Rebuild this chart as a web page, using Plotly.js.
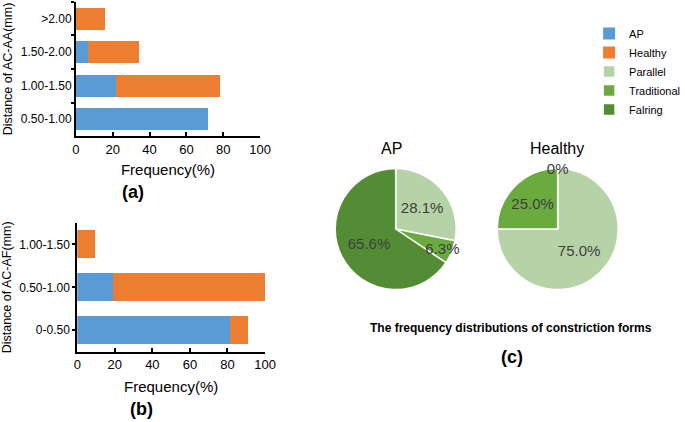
<!DOCTYPE html>
<html>
<head>
<meta charset="utf-8">
<script src="https://cdn.plot.ly/plotly-3.0.1.min.js"></script>
<style>
  html, body { margin: 0; padding: 0; background: #fff; }
  #chart { width: 685px; height: 422px; }
</style>
</head>
<body>
<div id="chart"></div>
<script>
// (a) distance of AC-AA
const catsA = ["0.50-1.00", "1.00-1.50", "1.50-2.00", ">2.00"];
const apA = [71.9, 21.9, 6.3, 0];
const healthyA = [0, 56.3, 28.1, 15.6];

// (b) distance of AC-AF
const catsB = ["0-0.50", "0.50-1.00", "1.00-1.50"];
const apB = [81.3, 18.8, 0];
const healthyB = [9.4, 81.2, 9.4];

// (c) constriction forms
const forms = ["Parallel", "Traditional", "Falring"];
const apForms = [28.1, 6.3, 65.6];
const healthyForms = [75.0, 25.0, 0];

const blue = "#5b9bd5", orange = "#ed7d31";
const formColors = ["#b5d3a6", "#6aaa3f", "#548c35"];
const font = "Arial, 'Liberation Sans', sans-serif";

const pct = v => v === 0 ? "0%" : v.toFixed(1) + "%";

const domAP = {x: [0.4893, 0.6660], y: [0.3140, 0.6007]};
const domHealthy = {x: [0.7258, 0.9025], y: [0.3140, 0.6007]};

// slices first, then a transparent copy on top that only carries the labels
function pieSlices(values, dom) {
  return {type: "pie", labels: forms, values: values, textinfo: "none",
    sort: false, direction: "clockwise", rotation: 0,
    marker: {colors: formColors, line: {color: "#fff", width: 1.5}},
    domain: dom, hoverinfo: "label+value"};
}
function pieLabels(values, dom) {
  return {type: "pie", labels: forms, values: values, text: values.map(pct),
    textinfo: "text", textposition: "inside", insidetextorientation: "horizontal",
    sort: false, direction: "clockwise", rotation: 0, showlegend: false,
    marker: {colors: ["rgba(0,0,0,0)", "rgba(0,0,0,0)", "rgba(0,0,0,0)"], line: {width: 0}},
    textfont: {color: "#404040", size: 15, family: font},
    domain: dom, hoverinfo: "skip"};
}

const data = [
  {type: "bar", orientation: "h", name: "AP", x: apA, y: catsA,
   xaxis: "x", yaxis: "y", marker: {color: blue}, hoverinfo: "x"},
  {type: "bar", orientation: "h", name: "Healthy", x: healthyA, y: catsA,
   xaxis: "x", yaxis: "y", marker: {color: orange}, hoverinfo: "x"},
  {type: "bar", orientation: "h", name: "AP", x: apB, y: catsB, showlegend: false,
   xaxis: "x2", yaxis: "y2", marker: {color: blue}, hoverinfo: "x"},
  {type: "bar", orientation: "h", name: "Healthy", x: healthyB, y: catsB, showlegend: false,
   xaxis: "x2", yaxis: "y2", marker: {color: orange}, hoverinfo: "x"},
  pieSlices(apForms, domAP),
  pieSlices(healthyForms, domHealthy),
  pieLabels(apForms, domAP),
  pieLabels(healthyForms, domHealthy)
];

const xAxisBase = {
  range: [0, 100], dtick: 20, showgrid: false, zeroline: false, automargin: false,
  showline: true, linecolor: "#000", linewidth: 2,
  ticks: "inside", ticklen: 4, tickwidth: 2, tickcolor: "#000",
  tickfont: {size: 13, color: "#000", family: font}
};
const yAxisBase = {
  type: "category", showgrid: false, zeroline: false, automargin: false,
  showline: true, linecolor: "#000", linewidth: 2,
  ticks: "outside", ticklen: 3, tickwidth: 2, tickcolor: "#000",
  tickfont: {size: 12, color: "#000", family: font}
};

function note(text, px, py, size) {
  return {text: text, x: px / 685, y: 1 - py / 422, xref: "paper", yref: "paper",
    xanchor: "center", yanchor: "middle", showarrow: false,
    font: {size: size, color: "#000", family: font}};
}

const layout = {
  width: 685, height: 422,
  margin: {l: 0, r: 0, t: 0, b: 0, autoexpand: false},
  paper_bgcolor: "#fff", plot_bgcolor: "#fff",
  font: {family: font, color: "#000"},
  barmode: "stack", bargap: 0.35,
  uniformtext: {mode: "show", minsize: 15},
  xaxis: Object.assign({}, xAxisBase, {
    domain: [0.1109, 0.3796], anchor: "y",
    title: {text: "Frequency(%)", font: {size: 15, color: "#000", family: font}, standoff: 9}
  }),
  yaxis: Object.assign({}, yAxisBase, {
    domain: [0.6777, 0.9953], anchor: "x", range: [-0.5, 3.5],
    categoryorder: "array", categoryarray: catsA, tickson: "boundaries",
    title: {text: "Distance of AC-AA(mm)", font: {size: 12.5, color: "#000", family: font}, standoff: 5}
  }),
  xaxis2: Object.assign({}, xAxisBase, {
    domain: [0.1128, 0.3869], anchor: "y2",
    title: {text: "Frequency(%)", font: {size: 15, color: "#000", family: font}, standoff: 10}
  }),
  yaxis2: Object.assign({}, yAxisBase, {
    domain: [0.1666, 0.4716], anchor: "x2", range: [-0.5, 2.5],
    categoryorder: "array", categoryarray: catsB,
    title: {text: "Distance of AC-AF(mm)", font: {size: 12.5, color: "#000", family: font}, standoff: 5}
  }),
  legend: {
    x: 0.86, y: 0.955, xanchor: "left", yanchor: "top", traceorder: "normal",
    font: {size: 11, color: "#000", family: font},
    itemwidth: 30, tracegroupgap: 0
  },
  annotations: [
    note("<b>(a)</b>", 133, 192, 18),
    note("<b>(b)</b>", 141, 409, 18),
    note("AP", 392, 149, 16),
    note("Healthy", 557, 149, 16),
    note("<b>The frequency distributions of constriction forms</b>", 511, 328, 12),
    note("<b>(c)</b>", 512, 357, 18)
  ]
};

Plotly.newPlot("chart", data, layout, {displayModeBar: false, staticPlot: true});
</script>
</body>
</html>
